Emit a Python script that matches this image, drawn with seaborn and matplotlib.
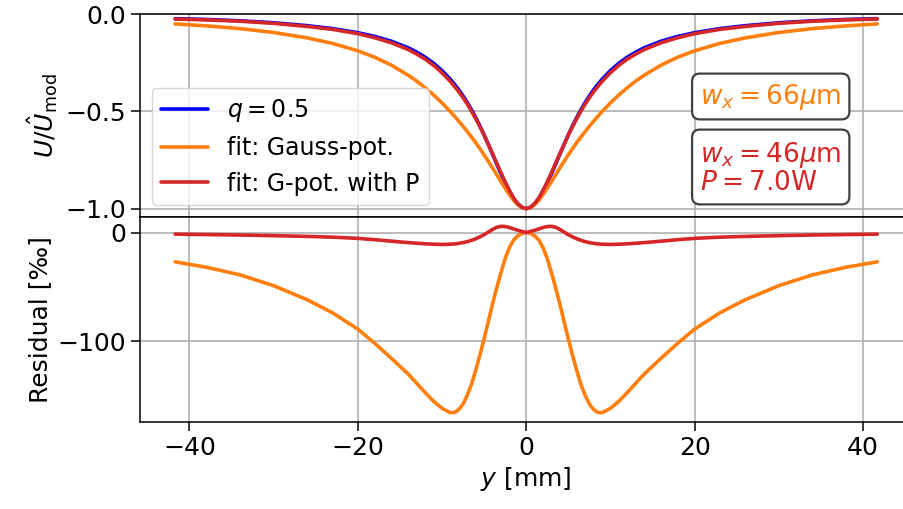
import matplotlib
matplotlib.use("Agg")
import matplotlib.pyplot as plt
import seaborn as sns
import numpy as np

# ---- data ----
y_mm = [-41.7, -38, -34, -30, -26, -23, -20, -18, -16, -14, -13, -12, -11, -10, -9,
        -8.5, -8, -7.5, -7, -6.5, -6, -5.5, -5, -4.5, -4, -3.5, -3, -2.5, -2, -1.5, -1, -0.5,
        0,
        0.5, 1, 1.5, 2, 2.5, 3, 3.5, 4, 4.5, 5, 5.5, 6, 6.5, 7, 7.5, 8, 8.5,
        9, 10, 11, 12, 13, 14, 16, 18, 20, 23, 26, 30, 34, 38, 41.7]

u_q05 = [-0.024, -0.028, -0.035, -0.045, -0.060, -0.075, -0.096, -0.115, -0.140, -0.174, -0.196,
         -0.222, -0.253, -0.291, -0.336, -0.362, -0.390, -0.421, -0.455, -0.492, -0.532, -0.575,
         -0.621, -0.670, -0.720, -0.771, -0.821, -0.868, -0.911, -0.948, -0.976, -0.994,
         -1.000,
         -0.994, -0.976, -0.948, -0.911, -0.868, -0.821, -0.771, -0.720, -0.670, -0.621, -0.575,
         -0.532, -0.492, -0.455, -0.421, -0.390, -0.362, -0.336, -0.291, -0.253, -0.222, -0.196,
         -0.174, -0.140, -0.115, -0.096, -0.075, -0.060, -0.045, -0.035, -0.028, -0.024]

u_gauss = [-0.051, -0.061, -0.075, -0.095, -0.123, -0.151, -0.189, -0.222, -0.263, -0.315, -0.345,
           -0.379, -0.416, -0.457, -0.502, -0.526, -0.551, -0.577, -0.604, -0.632, -0.661, -0.692,
           -0.724, -0.757, -0.791, -0.826, -0.861, -0.895, -0.928, -0.957, -0.980, -0.995,
           -1.000,
           -0.995, -0.980, -0.957, -0.928, -0.895, -0.861, -0.826, -0.791, -0.757, -0.724, -0.692,
           -0.661, -0.632, -0.604, -0.577, -0.551, -0.526, -0.502, -0.457, -0.416, -0.379, -0.345,
           -0.315, -0.263, -0.222, -0.189, -0.151, -0.123, -0.095, -0.075, -0.061, -0.051]

u_gpotP = [-0.026, -0.030, -0.037, -0.048, -0.064, -0.079, -0.101, -0.122, -0.148, -0.183, -0.206,
           -0.232, -0.264, -0.302, -0.347, -0.373, -0.400, -0.430, -0.463, -0.499, -0.538, -0.579,
           -0.623, -0.670, -0.717, -0.766, -0.815, -0.863, -0.906, -0.945, -0.974, -0.993,
           -1.000,
           -0.993, -0.974, -0.945, -0.906, -0.863, -0.815, -0.766, -0.717, -0.670, -0.623, -0.579,
           -0.538, -0.499, -0.463, -0.430, -0.400, -0.373, -0.347, -0.302, -0.264, -0.232, -0.206,
           -0.183, -0.148, -0.122, -0.101, -0.079, -0.064, -0.048, -0.037, -0.030, -0.026]

res_gauss = [-27, -32, -39, -49, -62, -74, -89, -102, -116, -130.5, -139, -147.5, -155.5, -162, -166,
             -165.8, -163, -158, -150, -140, -127, -113, -98, -82, -66, -51, -37, -24, -14, -7, -3, -0.8,
             0,
             -0.8, -3, -7, -14, -24, -37, -51, -66, -82, -98, -113, -127, -140, -150, -158, -163, -165.8,
             -166, -162, -155.5, -147.5, -139, -130.5, -116, -102, -89, -74, -62, -49, -39, -32, -27]

res_gpotP = [-1.5, -1.9, -2.3, -2.9, -3.6, -4.3, -5.4, -6.6, -8.0, -9.3, -9.9, -10.4, -10.8, -11.0,
             -10.8, -10.5, -10.0, -9.3, -8.4, -7.2, -5.8, -4.0, -2.0, 0.4, 2.8, 4.8, 5.7, 5.5, 4.6,
             3.3, 2.0, 1.0,
             0,
             1.0, 2.0, 3.3, 4.6, 5.5, 5.7, 4.8, 2.8, 0.4, -2.0, -4.0, -5.8, -7.2, -8.4, -9.3, -10.0,
             -10.5, -10.8, -11.0, -10.8, -10.4, -9.9, -9.3, -8.0, -6.6, -5.4, -4.3, -3.6, -2.9, -2.3,
             -1.9, -1.5]

labels = ["$q = 0.5$", "fit: Gauss-pot.", "fit: G-pot. with P"]
colors = ["blue", "tab:orange", "tab:red"]
box1_text = r"$w_x = 66\mu$m"
box2_text = "$w_x = 46\\mu$m\n$P = 7.0$W"

# ---- style ----
sns.set_style("ticks")
plt.rcParams.update({
    "font.family": ["DejaVu Sans"],
    "font.size": 18,
    "axes.linewidth": 1.1,
    "axes.edgecolor": "black",
    "xtick.major.size": 6.5,
    "ytick.major.size": 6.5,
    "xtick.major.width": 1.1,
    "ytick.major.width": 1.1,
    "xtick.color": "black",
    "ytick.color": "black",
    "axes.labelcolor": "black",
    "text.color": "black",
    "mathtext.fontset": "dejavusans",
})

W, H = 904, 509
fig = plt.figure(figsize=(W / 100, H / 100), dpi=100)
left, right = 140, 912.4
ax1 = fig.add_axes([left / W, 1 - 217 / H, (right - left) / W, 203 / H])
ax2 = fig.add_axes([left / W, 1 - 422 / H, (right - left) / W, 205 / H], sharex=ax1)

lw = 2.6
for ys, lab, col in zip([u_q05, u_gauss, u_gpotP], labels, colors):
    sns.lineplot(x=y_mm, y=ys, ax=ax1, color=col, lw=lw, label=lab, errorbar=None)
for ys, col in zip([res_gauss, res_gpotP], colors[1:]):
    sns.lineplot(x=y_mm, y=ys, ax=ax2, color=col, lw=lw, errorbar=None)

for ax in (ax1, ax2):
    ax.grid(True, color="#b0b0b0", lw=1.2)
    ax.set_axisbelow(True)
    for s in ax.spines.values():
        s.set_visible(True)
        s.set_color("black")
        s.set_linewidth(1.1)

ax1.set_ylim(-1.043, 0.0)
ax1.set_yticks([-1.0, -0.5, 0.0])
ax1.tick_params(axis="x", bottom=False, labelbottom=False)
ax1.set_ylabel(r"$U/\hat{U}_\mathrm{mod}$")

ax2.set_yticks([-100, 0])
ax2.set_xticks([-40, -20, 0, 20, 40])
ax2.set_ylabel("Residual [‰]")
ax2.set_xlabel("$y$ [mm]")

leg = ax1.legend(loc="lower left", fontsize=17, frameon=True, framealpha=0.8,
                 edgecolor="0.8", fancybox=True)
for line in leg.get_lines():
    line.set_linewidth(lw)

bx = (700 - left) / (right - left)
ax1.text(bx, (217 - 96.5) / 203, box1_text, transform=ax1.transAxes, color="tab:orange",
         ha="left", va="center", fontsize=19,
         bbox=dict(boxstyle="round,pad=0.3", fc="white", ec="#404040", lw=1.6))
ax1.text(bx, (217 - 168) / 203, box2_text, transform=ax1.transAxes, color="tab:red",
         ha="left", va="center", fontsize=19, linespacing=1.05,
         bbox=dict(boxstyle="round,pad=0.3", fc="white", ec="#404040", lw=1.6))

fig.savefig("out.png", dpi=100)
